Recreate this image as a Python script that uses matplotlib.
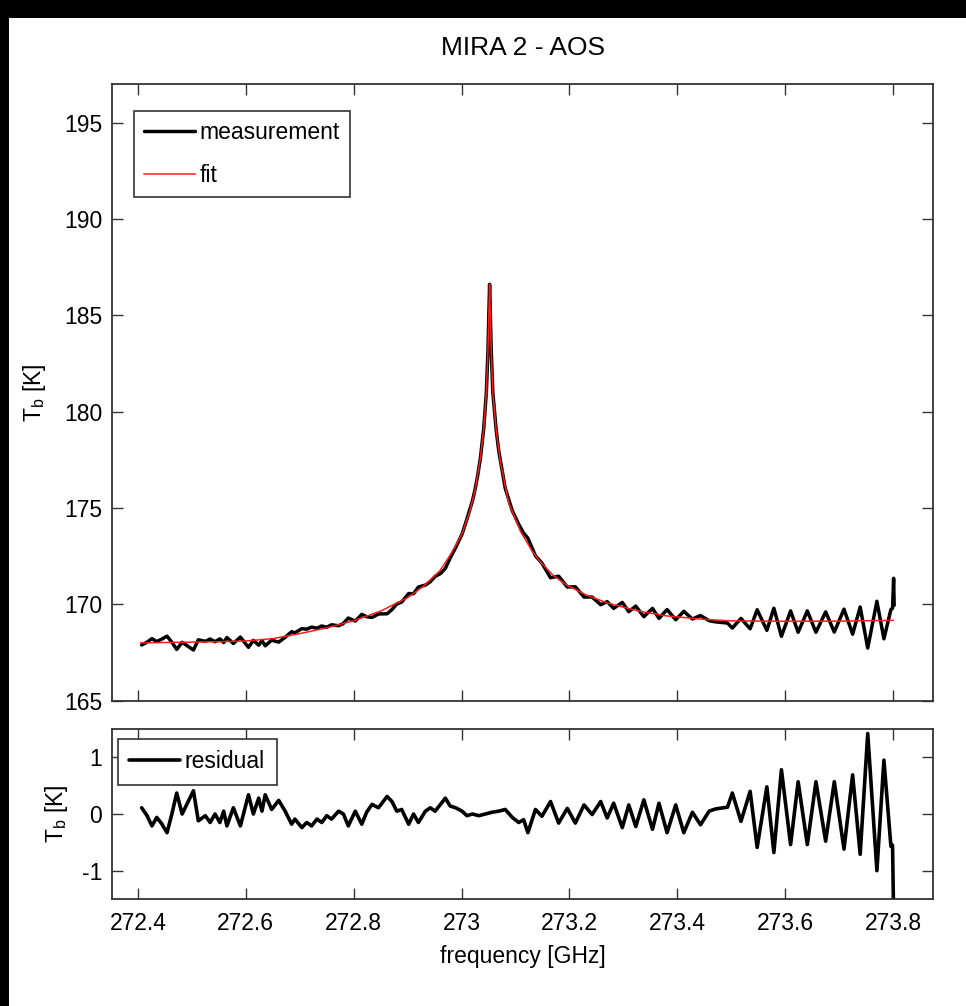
import matplotlib
matplotlib.use("Agg")
import matplotlib.pyplot as plt
from matplotlib.patches import Rectangle

plt.rcParams['font.family'] = ['Liberation Sans', 'DejaVu Sans']
plt.rcParams['axes.unicode_minus'] = False

# ---------------- data ----------------
fit_freq = [272.405, 272.45, 272.50, 272.55, 272.60, 272.65, 272.70, 272.75, 272.80, 272.85,
            272.90, 272.93, 272.96, 272.98, 273.00, 273.015, 273.025, 273.035, 273.041, 273.046,
            273.049, 273.051, 273.052, 273.053, 273.055, 273.058, 273.064, 273.072, 273.087, 273.109,
            273.13, 273.146, 273.17, 273.195, 273.23, 273.27, 273.33, 273.38, 273.45, 273.50,
            273.60, 273.70, 273.80]
fit_vals = [168.00, 168.02, 168.04, 168.06, 168.10, 168.22, 168.48, 168.78, 169.15, 169.65,
            170.35, 170.95, 171.75, 172.6, 173.6, 174.8, 175.9, 177.6, 179.1, 181.0,
            183.2, 185.5, 186.6, 185.5, 183.2, 181.0, 179.1, 177.4, 175.3, 173.8,
            172.8, 172.2, 171.5, 171.0, 170.5, 170.07, 169.64, 169.40, 169.22, 169.14,
            169.12, 169.13, 169.17]

meas_freq = [272.407, 272.417, 272.426, 272.435, 272.444, 272.454, 272.463, 272.472, 272.482, 272.503,
             272.512, 272.525, 272.534, 272.543, 272.552, 272.559, 272.565, 272.577, 272.590, 272.605,
             272.614, 272.624, 272.630, 272.636, 272.648, 272.661, 272.673, 272.685, 272.691, 272.704,
             272.713, 272.722, 272.732, 272.741, 272.750, 272.759, 272.772, 272.781, 272.790, 272.803,
             272.815, 272.824, 272.834, 272.846, 272.862, 272.871, 272.880, 272.889, 272.902, 272.911,
             272.920, 272.933, 272.942, 272.951, 272.961, 272.970, 272.979, 272.989, 273.001, 273.010,
             273.020, 273.025, 273.030, 273.035, 273.041, 273.046, 273.049, 273.051, 273.052, 273.053,
             273.055, 273.058, 273.064, 273.069, 273.081, 273.094, 273.106, 273.115, 273.123, 273.137,
             273.149, 273.165, 273.180, 273.196, 273.211, 273.227, 273.242, 273.258, 273.270, 273.282,
             273.298, 273.310, 273.323, 273.338, 273.354, 273.366, 273.381, 273.397, 273.412, 273.428,
             273.443, 273.459, 273.471, 273.493, 273.502, 273.518, 273.535, 273.548, 273.566, 273.579,
             273.593, 273.610, 273.624, 273.641, 273.657, 273.675, 273.691, 273.709, 273.725, 273.739,
             273.753, 273.770, 273.783, 273.796, 273.799, 273.801, 273.802]
meas_vals = [167.89, 168.04, 168.22, 168.07, 168.19, 168.35, 168.03, 167.66, 168.03, 167.63,
             168.16, 168.08, 168.20, 168.06, 168.21, 168.02, 168.28, 167.97, 168.30, 167.77,
             168.13, 167.88, 168.12, 167.85, 168.14, 168.04, 168.29, 168.58, 168.52, 168.74,
             168.71, 168.82, 168.76, 168.88, 168.81, 168.94, 168.89, 169.01, 169.29, 169.13,
             169.48, 169.36, 169.32, 169.50, 169.51, 169.73, 170.02, 170.12, 170.56, 170.55,
             170.90, 171.00, 171.17, 171.45, 171.60, 171.87, 172.41, 172.94, 173.65, 174.43,
             175.35, 175.95, 176.70, 177.60, 179.10, 181.00, 183.20, 185.50, 186.60, 185.50,
             183.20, 181.00, 179.10, 177.95, 176.02, 174.86, 174.15, 173.70, 173.43, 172.52,
             172.14, 171.38, 171.46, 170.90, 170.91, 170.38, 170.38, 169.98, 170.14, 169.79,
             170.10, 169.62, 169.91, 169.36, 169.79, 169.27, 169.73, 169.20, 169.64, 169.24,
             169.42, 169.15, 169.09, 169.03, 168.77, 169.27, 168.73, 169.72, 168.65, 169.80,
             168.34, 169.66, 168.55, 169.66, 168.55, 169.61, 168.56, 169.75, 168.45, 169.86,
             167.73, 170.16, 168.21, 169.74, 169.80, 171.35, 169.95]

resid_freq = [272.407, 272.417, 272.426, 272.435, 272.444, 272.454, 272.463, 272.472, 272.482, 272.503,
              272.512, 272.525, 272.534, 272.543, 272.552, 272.559, 272.565, 272.577, 272.590, 272.605,
              272.614, 272.624, 272.630, 272.636, 272.648, 272.661, 272.673, 272.685, 272.691, 272.704,
              272.713, 272.722, 272.732, 272.741, 272.750, 272.759, 272.772, 272.781, 272.790, 272.803,
              272.815, 272.824, 272.834, 272.846, 272.862, 272.871, 272.880, 272.889, 272.902, 272.911,
              272.920, 272.933, 272.942, 272.951, 272.961, 272.970, 272.979, 272.989, 273.001, 273.010,
              273.020, 273.032, 273.044, 273.056, 273.069, 273.081, 273.094, 273.106, 273.115, 273.123,
              273.137, 273.149, 273.165, 273.180, 273.196, 273.211, 273.227, 273.242, 273.258, 273.270,
              273.282, 273.298, 273.310, 273.323, 273.338, 273.354, 273.366, 273.381, 273.397, 273.412,
              273.428, 273.443, 273.459, 273.471, 273.493, 273.502, 273.518, 273.535, 273.548, 273.566,
              273.579, 273.593, 273.610, 273.624, 273.641, 273.657, 273.675, 273.691, 273.709, 273.725,
              273.739, 273.753, 273.770, 273.783, 273.796, 273.799, 273.801]
resid_vals = [0.11, -0.03, -0.21, -0.06, -0.17, -0.33, 0.00, 0.37, 0.00, 0.41,
              -0.12, -0.03, -0.15, 0.00, -0.15, 0.05, -0.21, 0.11, -0.21, 0.34,
              0.00, 0.28, 0.05, 0.34, 0.08, 0.24, 0.05, -0.18, -0.09, -0.24,
              -0.15, -0.21, -0.09, -0.15, -0.03, -0.09, 0.05, 0.00, -0.21, 0.05,
              -0.18, 0.03, 0.17, 0.11, 0.31, 0.22, 0.05, 0.08, -0.18, 0.00,
              -0.15, 0.05, 0.11, 0.05, 0.17, 0.28, 0.14, 0.11, 0.05, -0.03,
              0.00, -0.03, 0.00, 0.03, 0.05, 0.08, -0.06, -0.15, -0.10, -0.33,
              0.08, -0.04, 0.22, -0.16, 0.10, -0.16, 0.16, -0.01, 0.22, -0.07,
              0.19, -0.24, 0.16, -0.22, 0.25, -0.27, 0.19, -0.33, 0.16, -0.33,
              0.03, -0.19, 0.05, 0.09, 0.12, 0.37, -0.13, 0.40, -0.59, 0.48,
              -0.68, 0.78, -0.54, 0.57, -0.54, 0.57, -0.48, 0.57, -0.62, 0.69,
              -0.71, 1.42, -1.00, 0.95, -0.57, -0.55, -1.80]

x_ticks = [272.4, 272.6, 272.8, 273.0, 273.2, 273.4, 273.6, 273.8]
x_tick_labels = ['272.4', '272.6', '272.8', '273', '273.2', '273.4', '273.6', '273.8']
top_y_ticks = [165, 170, 175, 180, 185, 190, 195]
bot_y_ticks = [-1, 0, 1]

# ---------------- figure ----------------
W, H = 966, 1006
fig = plt.figure(figsize=(W / 100, H / 100), dpi=100)
fig.patch.set_facecolor('white')

# black frame strips of the screenshot
fig.add_artist(Rectangle((0, 1 - 18 / H), 1, 18 / H, transform=fig.transFigure,
                         facecolor='black', edgecolor='none', zorder=10))
fig.add_artist(Rectangle((0, 0), 9 / W, 1, transform=fig.transFigure,
                         facecolor='black', edgecolor='none', zorder=10))

left, right = 112, 933
ax1 = fig.add_axes([left / W, 1 - 700.7 / H, (right - left) / W, (700.7 - 84) / H])
ax2 = fig.add_axes([left / W, 1 - 899 / H, (right - left) / W, (899 - 729) / H])

FS = 16.5
spine_c = '#333333'

ax1.plot(meas_freq, meas_vals, color='black', lw=2.5, label='measurement',
         solid_joinstyle='round', solid_capstyle='round')
ax1.plot(fit_freq, fit_vals, color='#ff1a1a', lw=1.1, label='fit')
ax2.plot(resid_freq, resid_vals, color='black', lw=2.6, label='residual',
         solid_joinstyle='round', solid_capstyle='round')

for ax in (ax1, ax2):
    ax.set_xlim(272.352, 273.874)
    ax.set_xticks(x_ticks)
    ax.tick_params(direction='in', top=True, right=True, length=8, width=1.0,
                   color=spine_c, labelsize=FS, pad=7)
    ax.tick_params(axis='x', pad=9)
    for s in ax.spines.values():
        s.set_color(spine_c)
        s.set_linewidth(1.3)

ax1.set_ylim(165, 197)
ax1.set_yticks(top_y_ticks)
ax1.set_xticklabels([])
ax2.set_ylim(-1.5, 1.5)
ax2.set_yticks(bot_y_ticks)
ax2.set_xticklabels(x_tick_labels)

ax1.set_ylabel(r'$\mathregular{T_b}$ [K]', fontsize=FS, va='center')
ax1.yaxis.set_label_coords((34 - left) / (right - left), 0.5)
ax2.set_ylabel(r'$\mathregular{T_b}$ [K]', fontsize=FS, va='center')
ax2.yaxis.set_label_coords((56 - left) / (right - left), 0.5)
ax2.set_xlabel('frequency [GHz]', fontsize=FS, va='center')
ax2.xaxis.set_label_coords(0.5, (899 - 957) / 170)

fig.text(523 / W, 1 - 48 / H, 'MIRA 2 - AOS', ha='center', va='center', fontsize=19)

leg1 = ax1.legend(loc='upper left', bbox_to_anchor=((134 - left) / (right - left), (700.7 - 111) / 616.7),
                  borderaxespad=0, fontsize=FS, fancybox=False, framealpha=1,
                  edgecolor=spine_c, handlelength=2.2, handletextpad=0.22,
                  borderpad=0.45, labelspacing=0.85)
leg1.get_frame().set_linewidth(1.2)
leg2 = ax2.legend(loc='upper left', bbox_to_anchor=((118 - left) / (right - left), (899 - 739) / 170),
                  borderaxespad=0, fontsize=FS, fancybox=False, framealpha=1,
                  edgecolor=spine_c, handlelength=2.2, handletextpad=0.22,
                  borderpad=0.5)
leg2.get_frame().set_linewidth(1.2)

fig.savefig('out.png', dpi=100, facecolor='white')
